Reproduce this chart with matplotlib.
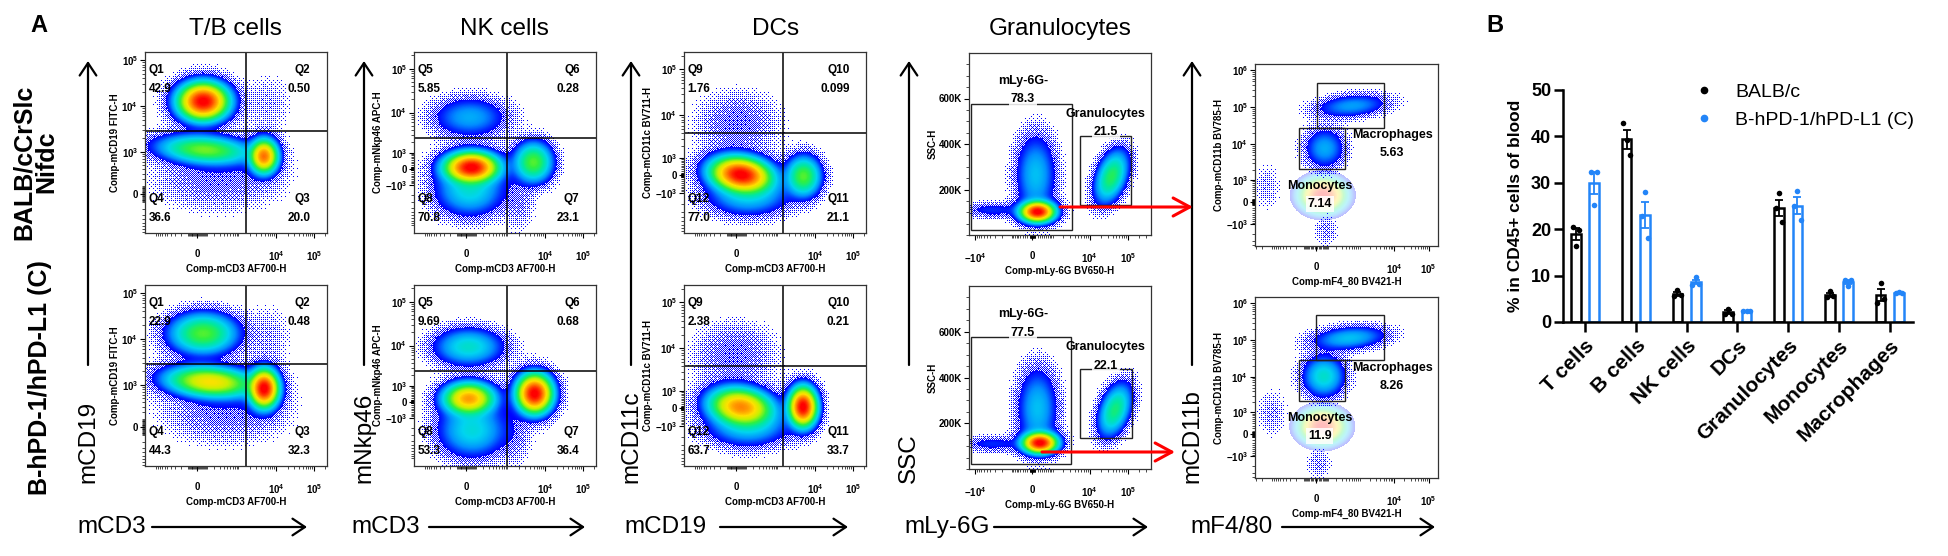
import numpy as np
import matplotlib
matplotlib.use("Agg")
import matplotlib.pyplot as plt
from matplotlib.colors import LinearSegmentedColormap
from matplotlib.patches import Rectangle, FancyArrowPatch
from matplotlib.lines import Line2D
from matplotlib.ticker import NullFormatter

plt.rcParams['font.family'] = ['Liberation Sans', 'DejaVu Sans']
plt.rcParams['mathtext.fontset'] = 'custom'
plt.rcParams['mathtext.rm'] = 'Liberation Sans'
plt.rcParams['mathtext.bf'] = 'Liberation Sans:bold'
plt.rcParams['mathtext.it'] = 'Liberation Sans:italic'
plt.rcParams['mathtext.sf'] = 'Liberation Sans'

# ======================= DATA =======================
# ---- Panel B (bar chart) ----
categories = ["T cells", "B cells", "NK cells", "DCs", "Granulocytes", "Monocytes", "Macrophages"]
series_names = ["BALB/c", "B-hPD-1/hPD-L1 (C)"]
balb_points = [[20.5, 16.3, 19.9], [42.8, 39.2, 36.0], [5.6, 6.8, 5.8], [1.8, 2.9, 1.8],
               [24.5, 27.7, 21.6], [5.4, 6.6, 5.5], [4.2, 8.3, 5.0]]
hpd_points = [[32.4, 25.2, 32.3], [22.8, 28.1, 18.2], [8.0, 9.6, 8.2], [2.3, 2.4, 2.4],
              [25.0, 28.3, 21.9], [9.1, 7.8, 9.1], [6.3, 6.4, 6.3]]
bar_yticks = [0, 10, 20, 30, 40, 50]

# ---- Panel A (flow plots) texts ----
col_titles = ["T/B cells", "NK cells", "DCs", "Granulocytes"]
row_labels = ["BALB/cCrSlc\nNifdc", "B-hPD-1/hPD-L1 (C)"]
marker_y_labels = ["mCD19", "mNkp46", "mCD11c", "SSC", "mCD11b"]
marker_x_labels = ["mCD3", "mCD3", "mCD19", "mLy-6G", "mF4/80"]
chan_x = ["Comp-mCD3 AF700-H", "Comp-mCD3 AF700-H", "Comp-mCD3 AF700-H",
          "Comp-mLy-6G BV650-H", "Comp-mF4_80 BV421-H"]
chan_y = ["Comp-mCD19 FITC-H", "Comp-mNkp46 APC-H", "Comp-mCD11c BV711-H",
          "SSC-H", "Comp-mCD11b BV785-H"]

# ---- axis scales (biexponential-like) ----
cd3_w, cd3_lim = 166, (-2000, 2.2e5)
cd3_ticks, cd3_ticklabels = [0, 1e4, 1e5], ['0', r'$\mathbf{10^{4}}$', r'$\mathbf{10^{5}}$']
cd19_w, cd19_lim = 248, (-850, 1.5e5)
cd19_ticks = [0, 1e3, 1e4, 1e5]
cd19_ticklabels = ['0', r'$\mathbf{10^{3}}$', r'$\mathbf{10^{4}}$', r'$\mathbf{10^{5}}$']
nkp_w, nkp_lim = 1060, (-15400, 2.4e5)
nkp_ticks = [-1e3, 0, 1e3, 1e4, 1e5]
nkp_ticklabels = [r'$\mathbf{-10^{3}}$', '0', r'$\mathbf{10^{3}}$', r'$\mathbf{10^{4}}$', r'$\mathbf{10^{5}}$']
cd11c_w, cd11c_lim = 1000, (-9000, 2.4e5)
ly6g_w, ly6g_lim = 637, (-14500, 4.0e5)
ly6g_ticks = [-1e4, 0, 1e4, 1e5]
ly6g_ticklabels = [r'$\mathbf{-10^{4}}$', '0', r'$\mathbf{10^{4}}$', r'$\mathbf{10^{5}}$']
ssc_lim = (0, 8.0e5)
ssc_ticks, ssc_ticklabels = [2e5, 4e5, 6e5], ['200K', '400K', '600K']
f480_w, f480_lim = 110, (-3200, 1.87e5)
f480_ticks, f480_ticklabels = [0, 1e4, 1e5], ['0', r'$\mathbf{10^{4}}$', r'$\mathbf{10^{5}}$']
cd11b_w, cd11b_lim = 537, (-4200, 1.49e6)
cd11b_ticks = [-1e3, 0, 1e3, 1e4, 1e5, 1e6]
cd11b_ticklabels = [r'$\mathbf{-10^{3}}$', '0', r'$\mathbf{10^{3}}$', r'$\mathbf{10^{4}}$',
                    r'$\mathbf{10^{5}}$', r'$\mathbf{10^{6}}$']

# ---- quadrant gates & frequencies ----
tb_gate = [1600, 2900]
nk_gate = [950, 2600]
dc_gate = [1400, 4100]
tb_quads = ["Q1", "Q2", "Q3", "Q4"]
tb_top_pct = [42.9, 0.50, 20.0, 36.6]
tb_bot_pct = [22.9, 0.48, 32.3, 44.3]
nk_quads = ["Q5", "Q6", "Q7", "Q8"]
nk_top_pct = [5.85, 0.28, 23.1, 70.8]
nk_bot_pct = [9.69, 0.68, 36.4, 53.3]
dc_quads = ["Q9", "Q10", "Q11", "Q12"]
dc_top_pct = [1.76, 0.099, 21.1, 77.0]
dc_bot_pct = [2.38, 0.21, 33.7, 63.7]

# ---- rectangular gates (x0, x1, y0, y1) & frequencies ----
gran_gate_names = ["mLy-6G-", "Granulocytes"]
gran_top_neg_gate = [-13000, 3380, 22000, 577000]
gran_top_pos_gate = [5500, 123600, 132000, 433000]
gran_bot_neg_gate = [-13000, 3200, 22000, 576000]
gran_bot_pos_gate = [5570, 125000, 136000, 437000]
gran_top_pct = [78.3, 21.5]
gran_bot_pct = [77.5, 22.1]
mac_gate_names = ["Macrophages", "Monocytes"]
mac_top_macro_gate = [5, 5056, 28100, 451000]
mac_top_mono_gate = [-150, 368, 2020, 28100]
mac_bot_macro_gate = [1, 4990, 29100, 488000]
mac_bot_mono_gate = [-150, 374, 2090, 29100]
mac_top_pct = [5.63, 7.14]
mac_bot_pct = [8.26, 11.9]

# ---- cell populations: centre (data units), spread (axis fraction), tilt, relative density ----
tb_top_x = [61, 80, 4780, 264, 6370]
tb_top_y = [12700, 1120, 800, 209, 11900]
tb_top_sx = [0.066, 0.13, 0.037, 0.20, 0.08]
tb_top_sy = [0.050, 0.040, 0.045, 0.10, 0.10]
tb_top_ang = [0, -4, 0, 0, 0]
tb_top_wt = [1.0, 0.22, 0.65, 0.012, 0.005]

tb_bot_x = [61, 147, 4830, 400, 6370]
tb_bot_y = [13300, 1173, 830, 209, 11900]
tb_bot_sx = [0.095, 0.12, 0.038, 0.20, 0.08]
tb_bot_sy = [0.058, 0.042, 0.050, 0.10, 0.10]
tb_bot_ang = [0, -4, 0, 0, 0]
tb_bot_wt = [0.2, 0.4, 1.0, 0.012, 0.005]

nk_top_x = [53, 34, 34, 4620, 1925]
nk_top_y = [75, -1505, 7830, 364, -3300]
nk_top_sx = [0.07, 0.10, 0.11, 0.054, 0.05]
nk_top_sy = [0.040, 0.075, 0.06, 0.057, 0.09]
nk_top_ang = [0, 0, 0, 0, 0]
nk_top_wt = [1.0, 0.08, 0.05, 0.2, 0.007]

nk_bot_x = [26, 61, 23, 4950, 1509]
nk_bot_y = [177, -2260, 9380, 461, -3300]
nk_bot_sx = [0.068, 0.10, 0.10, 0.047, 0.05]
nk_bot_sy = [0.043, 0.08, 0.055, 0.052, 0.09]
nk_bot_ang = [0, 0, 0, 0, 0]
nk_bot_wt = [0.55, 0.08, 0.09, 1.0, 0.007]

dc_top_x = [49, 12, 131, 4950]
dc_top_y = [27, 6840, -1260, -55]
dc_top_sx = [0.08, 0.13, 0.12, 0.049]
dc_top_sy = [0.046, 0.10, 0.06, 0.057]
dc_top_ang = [-8, 0, 0, 0]
dc_top_wt = [1.0, 0.013, 0.06, 0.2]

dc_bot_x = [47, -21, 124, 4780]
dc_bot_y = [72, 7620, -1080, 72]
dc_bot_sx = [0.085, 0.13, 0.12, 0.037]
dc_bot_sy = [0.05, 0.10, 0.06, 0.052]
dc_bot_ang = [-8, 0, 0, 0]
dc_bot_wt = [0.6, 0.013, 0.06, 1.0]

gran_top_x = [202, 129, -3620, 37100]
gran_top_y = [102000, 265000, 110000, 257000]
gran_top_sx = [0.045, 0.06, 0.10, 0.042]
gran_top_sy = [0.027, 0.12, 0.025, 0.078]
gran_top_ang = [0, 0, 0, -20]
gran_top_wt = [1.0, 0.06, 0.02, 0.16]

gran_bot_x = [299, 200, -3620, 45700]
gran_bot_y = [114000, 265000, 110000, 258000]
gran_bot_sx = [0.045, 0.06, 0.10, 0.042]
gran_bot_sy = [0.027, 0.12, 0.025, 0.078]
gran_bot_ang = [0, 0, 0, -20]
gran_bot_wt = [1.0, 0.06, 0.02, 0.14]

mac_top_x = [68, 600, -1500, 82]
mac_top_y = [7680, 109000, 585, -1540]
mac_top_sx = [0.06, 0.11, 0.05, 0.04]
mac_top_sy = [0.06, 0.035, 0.08, 0.05]
mac_top_ang = [0, 5, 0, 0]
mac_top_wt = [0.05, 0.045, 0.005, 0.007]
mac_top_bg_x, mac_top_bg_y = [52], [232]

mac_bot_x = [60, 500, -1066, 23]
mac_bot_y = [10200, 113000, 955, -1690]
mac_bot_sx = [0.06, 0.11, 0.05, 0.04]
mac_bot_sy = [0.06, 0.035, 0.08, 0.05]
mac_bot_ang = [0, 5, 0, 0]
mac_bot_wt = [0.09, 0.06, 0.006, 0.007]
mac_bot_bg_x, mac_bot_bg_y = [47], [272]
mac_bg_sx, mac_bg_sy, mac_bg_ang, mac_bg_wt = [0.065], [0.05], [0], [1.0]

# ======================= FIGURE =======================
W, H = 1948, 556
fig = plt.figure(figsize=(W / 100, H / 100), dpi=100)
fig.patch.set_facecolor('white')


def fx(x):
    return x / W


def fy(y):
    return 1 - y / H


def add_px_axes(x0, y0, x1, y1):
    return fig.add_axes([x0 / W, 1 - y1 / H, (x1 - x0) / W, (y1 - y0) / H])


flow_cmap = LinearSegmentedColormap.from_list('flowjo', [
    (0.00, '#0000ff'), (0.10, '#0030ff'), (0.24, '#0090ff'), (0.38, '#00d4f0'),
    (0.50, '#00e8a0'), (0.60, '#30f040'), (0.72, '#c8f000'), (0.80, '#ffe000'),
    (0.90, '#ff8000'), (1.00, '#ff0000')])

# ordered-dither matrix used to render the sparse outer events as dots
_b4 = np.array([[0, 8, 2, 10], [12, 4, 14, 6], [3, 11, 1, 9], [15, 7, 13, 5]])
bayer8 = np.block([[4 * _b4, 4 * _b4 + 2], [4 * _b4 + 3, 4 * _b4 + 1]]) / 64.0 + 1 / 128


def fmt_pct(v):
    return f"{v:#.2g}" if v < 1 else f"{v:#.3g}"


def biex_axis(ax, which, w, lim, ticks, labels):
    if which == 'x':
        ax.set_xscale('asinh', linear_width=w)
        ax.set_xlim(*lim)
        setticks, axis = ax.set_xticks, ax.xaxis
    else:
        ax.set_yscale('asinh', linear_width=w)
        ax.set_ylim(*lim)
        setticks, axis = ax.set_yticks, ax.yaxis
    setticks(ticks, labels=labels, fontsize=7, fontweight='bold')
    minor = sorted(s * m * 10 ** k for k in range(1, 7) for m in range(1, 10) for s in (1, -1))
    minor = [v for v in minor if lim[0] < v < lim[1]]
    setticks(minor, minor=True)
    axis.set_minor_formatter(NullFormatter())


def style_flow(ax, xlabel, ylabel):
    for s in ax.spines.values():
        s.set_linewidth(0.9)
        s.set_color('#333333')
    ax.tick_params(which='major', direction='out', length=3.5, width=0.8)
    ax.tick_params(which='minor', direction='out', length=2, width=0.5)
    ax.tick_params(axis='x', which='major', pad=8)
    ax.tick_params(axis='y', which='major', pad=1.5)
    ax.set_xlabel(xlabel, fontsize=7, fontweight='bold', labelpad=1)
    ax.set_ylabel(ylabel, fontsize=7, fontweight='bold', labelpad=1)


def draw_density(ax, box, xs, ys, sxs, sys_, angs, wts, alpha_scale=1.0, dither=True,
                 thr=0.015):
    nx, ny = int(box[2] - box[0]), int(box[3] - box[1])
    pts = ax.transLimits.transform(ax.transScale.transform(
        np.column_stack([xs, ys]).astype(float)))
    GX, GY = np.meshgrid((np.arange(nx) + 0.5) / nx, (np.arange(ny) + 0.5) / ny)
    Z = np.zeros_like(GX)
    for (cx, cy), a, b, th, w in zip(pts, sxs, sys_, angs, wts):
        t = np.deg2rad(th)
        dx, dy = GX - cx, GY - cy
        u = dx * np.cos(t) + dy * np.sin(t)
        v = -dx * np.sin(t) + dy * np.cos(t)
        q = (u / a) ** 2 + (v / b) ** 2
        Z += w * (np.exp(-0.5 * q) + 0.04 * np.exp(-0.5 * q / 2.6))
    cv = np.clip(np.log10(np.maximum(Z, 1e-12) / thr) / np.log10(1 / thr), 0, 1)
    rgba = flow_cmap(cv)
    core = Z >= thr
    if dither:
        lo = thr / 12
        cover = 0.6 * np.clip(np.log(np.maximum(Z, 1e-12) / lo) / np.log(thr / lo), 0, 1) ** 1.3
        pattern = np.tile(bayer8, (ny // 8 + 1, nx // 8 + 1))[:ny, :nx]
        dots = (~core) & (cover > pattern)
        alpha = np.where(core | dots, 1.0, 0.0)
    else:
        alpha = np.where(core, 1.0, 0.0)
    rgba[..., 3] = alpha * alpha_scale
    ax.imshow(rgba, extent=(0, 1, 0, 1), transform=ax.transAxes, origin='lower',
              aspect='auto', interpolation='nearest', zorder=0.5)


def quad_panel(box, ycfg, xlabel, ylabel, gate, qnames, pcts, pops):
    ax = add_px_axes(*box)
    biex_axis(ax, 'x', cd3_w, cd3_lim, cd3_ticks, cd3_ticklabels)
    biex_axis(ax, 'y', *ycfg)
    style_flow(ax, xlabel, ylabel)
    draw_density(ax, box, *pops)
    ax.axvline(gate[0], color='black', lw=1.1, zorder=2)
    ax.axhline(gate[1], color='black', lw=1.1, zorder=2)
    pos = [(0.02, 0.90, 'left'), (0.91, 0.90, 'right'), (0.91, 0.19, 'right'), (0.02, 0.19, 'left')]
    for (x, y, ha), nm, p in zip(pos, qnames, pcts):
        ax.text(x, y, nm, transform=ax.transAxes, ha=ha, va='center', fontsize=8.5,
                fontweight='bold', zorder=5)
        ax.text(x, y - 0.105, fmt_pct(p), transform=ax.transAxes, ha=ha, va='center',
                fontsize=8.5, fontweight='bold', zorder=5)
    return ax


def gate_rect(ax, g):
    ax.add_patch(Rectangle((g[0], g[2]), g[1] - g[0], g[3] - g[2], fill=False,
                           ec='#222222', lw=1.0, zorder=2))


def gate_label(ax, x, y, name, pct):
    ax.text(x, y, name, transform=ax.transAxes, ha='center', va='center', fontsize=9,
            fontweight='bold', zorder=5)
    ax.text(x, y - 0.1, fmt_pct(pct), transform=ax.transAxes, ha='center', va='center',
            fontsize=9, fontweight='bold', zorder=5,
            bbox=dict(boxstyle='square,pad=0.15', fc='white', ec='none', alpha=0.85))


def gran_panel(box, neg_gate, pos_gate, pcts, pops):
    ax = add_px_axes(*box)
    biex_axis(ax, 'x', ly6g_w, ly6g_lim, ly6g_ticks, ly6g_ticklabels)
    ax.set_ylim(*ssc_lim)
    ax.set_yticks(ssc_ticks, labels=ssc_ticklabels, fontsize=7, fontweight='bold')
    ax.set_yticks(np.arange(0, ssc_lim[1], 5e4), minor=True)
    ax.yaxis.set_minor_formatter(NullFormatter())
    style_flow(ax, chan_x[3], chan_y[3])
    draw_density(ax, box, *pops)
    gate_rect(ax, neg_gate)
    gate_rect(ax, pos_gate)
    gate_label(ax, 0.297, 0.845, gran_gate_names[0], pcts[0])
    gate_label(ax, 0.751, 0.665, gran_gate_names[1], pcts[1])
    return ax


def mac_panel(box, macro_gate, mono_gate, pcts, pops, bg):
    ax = add_px_axes(*box)
    biex_axis(ax, 'x', f480_w, f480_lim, f480_ticks, f480_ticklabels)
    biex_axis(ax, 'y', cd11b_w, cd11b_lim, cd11b_ticks, cd11b_ticklabels)
    style_flow(ax, chan_x[4], chan_y[4])
    draw_density(ax, box, *bg, alpha_scale=0.26, dither=False, thr=0.03)
    draw_density(ax, box, *pops)
    gate_rect(ax, macro_gate)
    gate_rect(ax, mono_gate)
    gate_label(ax, 0.75, 0.61, mac_gate_names[0], pcts[0])
    gate_label(ax, 0.354, 0.33, mac_gate_names[1], pcts[1])
    return ax


# panel boxes (pixels)
col_x = [(145, 327), (414, 596), (684, 866), (969, 1151), (1255, 1438)]
row_y = [(52, 233), (285, 466)]
gran_y = [(53, 235), (286, 469)]
mac_y = [(64, 246), (297, 478)]

tb_pops = [(tb_top_x, tb_top_y, tb_top_sx, tb_top_sy, tb_top_ang, tb_top_wt),
           (tb_bot_x, tb_bot_y, tb_bot_sx, tb_bot_sy, tb_bot_ang, tb_bot_wt)]
nk_pops = [(nk_top_x, nk_top_y, nk_top_sx, nk_top_sy, nk_top_ang, nk_top_wt),
           (nk_bot_x, nk_bot_y, nk_bot_sx, nk_bot_sy, nk_bot_ang, nk_bot_wt)]
dc_pops = [(dc_top_x, dc_top_y, dc_top_sx, dc_top_sy, dc_top_ang, dc_top_wt),
           (dc_bot_x, dc_bot_y, dc_bot_sx, dc_bot_sy, dc_bot_ang, dc_bot_wt)]
gran_pops = [(gran_top_x, gran_top_y, gran_top_sx, gran_top_sy, gran_top_ang, gran_top_wt),
             (gran_bot_x, gran_bot_y, gran_bot_sx, gran_bot_sy, gran_bot_ang, gran_bot_wt)]
mac_pops = [(mac_top_x, mac_top_y, mac_top_sx, mac_top_sy, mac_top_ang, mac_top_wt),
            (mac_bot_x, mac_bot_y, mac_bot_sx, mac_bot_sy, mac_bot_ang, mac_bot_wt)]
mac_bgs = [(mac_top_bg_x, mac_top_bg_y, mac_bg_sx, mac_bg_sy, mac_bg_ang, mac_bg_wt),
           (mac_bot_bg_x, mac_bot_bg_y, mac_bg_sx, mac_bg_sy, mac_bg_ang, mac_bg_wt)]

tb_pcts = [tb_top_pct, tb_bot_pct]
nk_pcts = [nk_top_pct, nk_bot_pct]
dc_pcts = [dc_top_pct, dc_bot_pct]
gran_gates = [(gran_top_neg_gate, gran_top_pos_gate), (gran_bot_neg_gate, gran_bot_pos_gate)]
gran_pcts = [gran_top_pct, gran_bot_pct]
mac_gates = [(mac_top_macro_gate, mac_top_mono_gate), (mac_bot_macro_gate, mac_bot_mono_gate)]
mac_pcts = [mac_top_pct, mac_bot_pct]

cd19_cfg = (cd19_w, cd19_lim, cd19_ticks, cd19_ticklabels)
nkp_cfg = (nkp_w, nkp_lim, nkp_ticks, nkp_ticklabels)
cd11c_cfg = (cd11c_w, cd11c_lim, nkp_ticks, nkp_ticklabels)

for r in range(2):
    y0, y1 = row_y[r]
    quad_panel((col_x[0][0], y0, col_x[0][1], y1), cd19_cfg, chan_x[0], chan_y[0],
               tb_gate, tb_quads, tb_pcts[r], tb_pops[r])
    quad_panel((col_x[1][0], y0, col_x[1][1], y1), nkp_cfg, chan_x[1], chan_y[1],
               nk_gate, nk_quads, nk_pcts[r], nk_pops[r])
    quad_panel((col_x[2][0], y0, col_x[2][1], y1), cd11c_cfg, chan_x[2], chan_y[2],
               dc_gate, dc_quads, dc_pcts[r], dc_pops[r])
    gran_panel((col_x[3][0], gran_y[r][0], col_x[3][1], gran_y[r][1]),
               gran_gates[r][0], gran_gates[r][1], gran_pcts[r], gran_pops[r])
    mac_panel((col_x[4][0], mac_y[r][0], col_x[4][1], mac_y[r][1]),
              mac_gates[r][0], mac_gates[r][1], mac_pcts[r], mac_pops[r], mac_bgs[r])

# ---- panel letters, titles, row labels ----
fig.text(fx(39), fy(25), 'A', fontsize=17, fontweight='bold', ha='center', va='center')
fig.text(fx(1495), fy(25), 'B', fontsize=17, fontweight='bold', ha='center', va='center')
for t, xc in zip(col_titles, [235, 504, 776, 1060]):
    fig.text(fx(xc), fy(29), t, fontsize=17.5, ha='center', va='center')
fig.text(fx(35), fy(162), row_labels[0], rotation=90, ha='center', va='center', fontsize=18,
         fontweight='bold', linespacing=0.95, multialignment='center')
fig.text(fx(40), fy(378), row_labels[1], rotation=90, ha='center', va='center', fontsize=18,
         fontweight='bold')


# ---- big axis arrows ----
def fig_arrow(p0, p1, color='black', lw=1.6, ms=10, hl=0.9, hw=0.6):
    fig.add_artist(FancyArrowPatch((fx(p0[0]), fy(p0[1])), (fx(p1[0]), fy(p1[1])),
                                   transform=fig.transFigure,
                                   arrowstyle=f'->,head_length={hl},head_width={hw}',
                                   mutation_scale=ms, lw=lw, color=color,
                                   shrinkA=0, shrinkB=0))


vx = [88, 364, 631, 909, 1192]
for x, lab in zip(vx, marker_y_labels):
    fig_arrow((x, 365), (x, 61))
    fig.text(fx(x), fy(483), lab, rotation=90, ha='center', va='bottom', fontsize=17.5)
hx_lab = [146, 420, 707, 990, 1273]
hx0 = [152, 429, 720, 994, 1282]
hx1 = [307, 585, 848, 1148, 1435]
for xl, a0, a1, lab in zip(hx_lab, hx0, hx1, marker_x_labels):
    fig.text(fx(xl), fy(527), lab, ha='right', va='center', fontsize=17.5)
    fig_arrow((a0, 527), (a1, 527))
# red arrows between gates
fig_arrow((1060, 207), (1193, 207), color='#ff0000', lw=2.2, ms=10, hl=1.2, hw=0.65)
fig_arrow((1042, 452), (1175, 452), color='#ff0000', lw=2.2, ms=10, hl=1.2, hw=0.65)

# ======================= PANEL B =======================
blue = '#2385f8'
bax = add_px_axes(1563, 90, 1913, 322)
xpos = np.arange(len(categories))
for arr_list, off, col in ((balb_points, -0.18, 'black'), (hpd_points, 0.18, blue)):
    arr = np.array(arr_list, dtype=float)
    mean = arr.mean(axis=1)
    sem = arr.std(axis=1, ddof=1) / np.sqrt(arr.shape[1])
    bax.bar(xpos + off, mean, width=0.19, facecolor='none', edgecolor=col, linewidth=1.8,
            zorder=2)
    bax.errorbar(xpos + off, mean, yerr=sem, fmt='none', ecolor=col, elinewidth=1.3,
                 capsize=3, capthick=1.3, zorder=3)
    for j, o in enumerate((-0.065, 0.0, 0.065)):
        bax.scatter(xpos + off + o, arr[:, j], s=16, color=col, zorder=4, linewidths=0,
                    clip_on=False)
bax.set_xlim(-0.433, 6.457)
bax.set_ylim(0, 50)
bax.spines[['top', 'right']].set_visible(False)
for s in ('left', 'bottom'):
    bax.spines[s].set_linewidth(1.8)
bax.set_yticks(bar_yticks, labels=[str(v) for v in bar_yticks], fontsize=13, fontweight='bold')
bax.set_xticks(xpos, labels=categories, rotation=45, ha='right', rotation_mode='anchor',
               fontsize=15, fontweight='bold')
bax.tick_params(axis='y', direction='out', length=6.5, width=1.8, pad=2)
bax.tick_params(axis='x', direction='out', length=7, width=1.8, pad=3)
bax.set_ylabel('% in CD45+ cells of blood', fontsize=12.5, fontweight='bold', labelpad=6)
handles = [Line2D([], [], marker='o', ls='none', color='black', ms=4.5),
           Line2D([], [], marker='o', ls='none', color=blue, ms=4.5)]
bax.legend(handles, series_names, loc='upper left', bbox_to_anchor=(0.38, 1.03), frameon=False,
           fontsize=14, handlelength=0.8, handletextpad=1.2, labelspacing=0.55,
           borderaxespad=0, borderpad=0)

fig.savefig('out.png', dpi=100)
